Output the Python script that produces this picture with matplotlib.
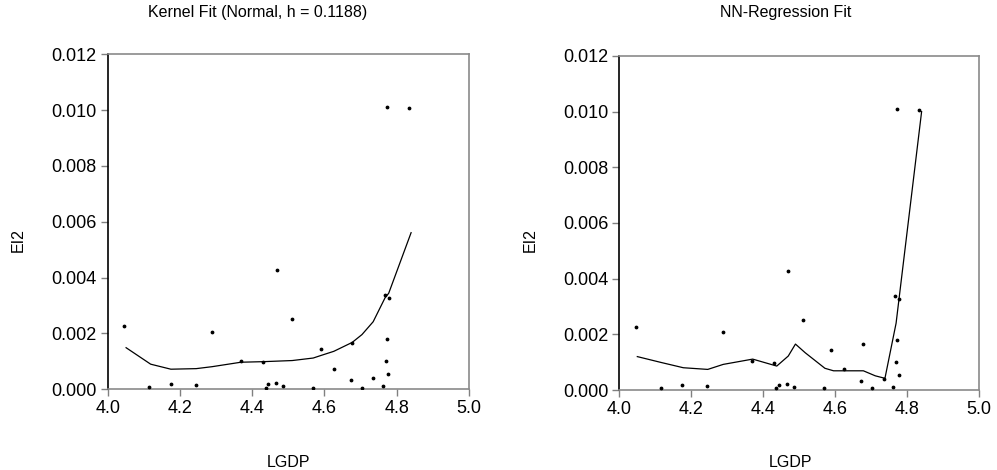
import numpy as np
import matplotlib
matplotlib.use('Agg')
import matplotlib.pyplot as plt

lgdp = [4.046, 4.115, 4.175, 4.245, 4.289, 4.369, 4.431, 4.437, 4.443, 4.466,
        4.470, 4.485, 4.511, 4.569, 4.590, 4.626, 4.673, 4.677, 4.704, 4.735,
        4.761, 4.768, 4.770, 4.773, 4.773, 4.778, 4.777, 4.834]
ei2 = [0.00227, 0.00007, 0.00019, 0.00014, 0.00207, 0.00103, 0.00098, 0.00006, 0.00019, 0.00023,
       0.00429, 0.00011, 0.00253, 0.00006, 0.00143, 0.00074, 0.00033, 0.00166, 0.00006, 0.00041,
       0.00011, 0.00336, 0.00100, 0.00179, 0.01011, 0.00327, 0.00055, 0.01007]

# kernel fit (Normal, h = 0.1188)
kern_x = [4.051, 4.119, 4.175, 4.245, 4.289, 4.369, 4.431, 4.511, 4.569, 4.590,
          4.626, 4.677, 4.704, 4.735, 4.768, 4.778, 4.840]
kern_y = [0.00149, 0.00090, 0.00072, 0.00074, 0.00081, 0.00097, 0.00099, 0.00103, 0.00112, 0.00121,
          0.00136, 0.00168, 0.00196, 0.00242, 0.00328, 0.00344, 0.00561]

# nearest neighbour regression fit
nn_x = [4.050, 4.116, 4.178, 4.246, 4.289, 4.371, 4.438, 4.470, 4.490, 4.517,
        4.572, 4.596, 4.679, 4.712, 4.739, 4.770, 4.841]
nn_y = [0.00120, 0.00099, 0.00080, 0.00074, 0.00092, 0.00111, 0.00086, 0.00122, 0.00165, 0.00134,
        0.00078, 0.00069, 0.00069, 0.00051, 0.00042, 0.00240, 0.01000]

titles = ['Kernel Fit (Normal, h = 0.1188)', 'NN-Regression Fit']
xticks = [4.0, 4.2, 4.4, 4.6, 4.8, 5.0]
yticks = [0.000, 0.002, 0.004, 0.006, 0.008, 0.010, 0.012]

plt.rcParams['font.family'] = ['Liberation Sans', 'DejaVu Sans']

fig = plt.figure(figsize=(9.97, 4.70), dpi=100)
ax1 = fig.add_axes([0.108, 0.1717, 0.3623, 0.7128])
ax2 = fig.add_axes([0.6212, 0.1702, 0.3605, 0.7107])

for ax, fx, fy in [(ax1, kern_x, kern_y), (ax2, nn_x, nn_y)]:
    ax.scatter(lgdp, ei2, s=3, color='black', zorder=3)
    ax.plot(fx, fy, color='black', lw=0.9)
    ax.set_xlim(4.0, 5.0)
    ax.set_ylim(0.0, 0.012)
    ax.set_xticks(xticks)
    ax.set_xticklabels([f'{t:.1f}' for t in xticks])
    ax.set_yticks(yticks)
    ax.set_yticklabels([f'{t:.3f}' for t in yticks])
    ax.tick_params(direction='out', length=5, width=1, labelsize=13, color='#808080', pad=3)
    ax.spines['left'].set_color('black')
    for s in ['top', 'right', 'bottom']:
        ax.spines[s].set_color('#8a8a8a')
    for s in ax.spines.values():
        s.set_linewidth(1.2)

fig.text(0.258, 0.974, titles[0], ha='center', va='center', fontsize=11.5)
fig.text(0.788, 0.974, titles[1], ha='center', va='center', fontsize=11.5)
fig.text(0.289, 0.017, 'LGDP', ha='center', va='center', fontsize=11.5)
fig.text(0.793, 0.017, 'LGDP', ha='center', va='center', fontsize=11.5)
fig.text(0.018, 0.489, 'EI2', ha='center', va='center', rotation=90, fontsize=11.5)
fig.text(0.532, 0.489, 'EI2', ha='center', va='center', rotation=90, fontsize=11.5)

fig.savefig('out.png', dpi=100)
